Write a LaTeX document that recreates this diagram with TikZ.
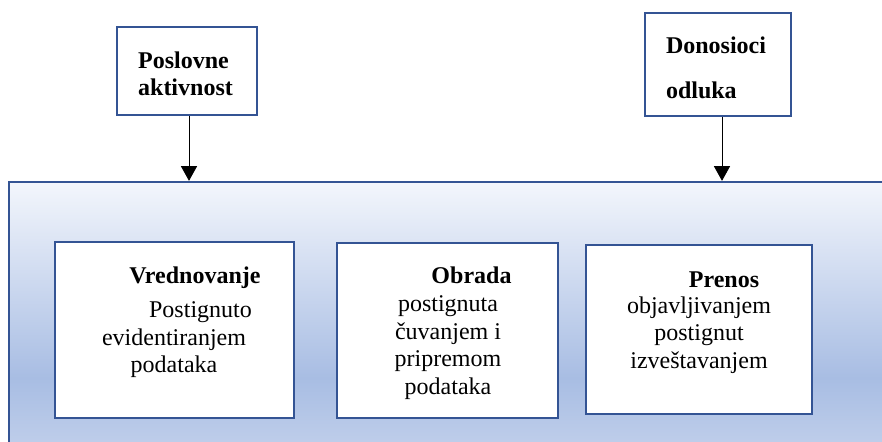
\documentclass[tikz,border=0pt]{standalone}
\usepackage{fontspec}
\setmainfont{Liberation Serif}
\usetikzlibrary{arrows.meta,fit}

\definecolor{boxblue}{RGB}{52,84,148}
\definecolor{paneltop}{RGB}{243,246,252}
\definecolor{panelmid}{RGB}{168,189,227}
\definecolor{panelbot}{RGB}{199,212,237}
\pgfdeclareverticalshading{panelshade}{100bp}{color(0bp)=(panelbot); color(25bp)=(panelbot); color(41bp)=(panelmid); color(75bp)=(paneltop); color(100bp)=(paneltop)}

\tikzset{
  box/.style={draw=boxblue, line width=1.5pt, fill=white, inner sep=0pt},
  panel/.style={draw=boxblue, line width=1.7pt, shading=panelshade, inner sep=0pt},
  txt/.style={font=\fontsize{18}{20.6}\selectfont, align=center, inner sep=0pt},
  ttl/.style={txt, font=\fontsize{18}{20.6}\selectfont\bfseries},
  arr/.style={-{Triangle[width=12pt,length=11pt]}, line width=0.75pt}
}

\begin{document}
\begin{tikzpicture}[x=0.75pt,y=0.75pt,yscale=-1,xscale=1]
\useasboundingbox (0,0) rectangle (882,442);

%Shape: Rectangle
\node [panel, fit={(9,182) (905,470)}] (panel) {};
%Shape: Rectangle
\node [box, line width=1.6pt, fit={(55,242) (294,418)}] (vred) {};
%Shape: Rectangle
\node [box, line width=1.6pt, fit={(337,243) (558,418)}] (obr) {};
%Shape: Rectangle
\node [box, line width=1.6pt, fit={(586,245) (812,414)}] (pren) {};
%Shape: Rectangle
\node [box, fit={(117,27) (257,115)}] (posl) {};
%Shape: Rectangle
\node [box, fit={(645,13) (791,116)}] (dono) {};

%Straight Lines
\draw [arr] ([xshift=1.5pt]posl.south) -- ([xshift=1.5pt]posl.south |- panel.north);
\draw [arr] ([xshift=3pt]dono.south) -- ([xshift=3pt]dono.south |- panel.north);

% Text Node
\node [ttl, align=left] (poslt) at (185.5,73.6) {Poslovne\\aktivnost};
% Text Node
\node [ttl, align=left] (donot) at (716,68.2) {Donosioci\\[13pt]odluka};
% Text Node
\node [ttl, anchor=base] (vredt) at (195,283) {Vrednovanje};
\node [txt] (vredb) at (174,339.9) {\hspace*{39.75pt}Postignuto\\evidentiranjem\\podataka};
% Text Node
\node [ttl, anchor=base] (obrt) at (471.5,283) {Obrada};
\node [txt] (obrb) at (448,347.6) {postignuta\\čuvanjem i\\pripremom\\podataka};
% Text Node
\node [ttl, anchor=base] (prent) at (724,287) {Prenos};
\node [txt] (prenb) at (699,334.9) {objavljivanjem\\postignut\\izveštavanjem};

\end{tikzpicture}
\end{document}
